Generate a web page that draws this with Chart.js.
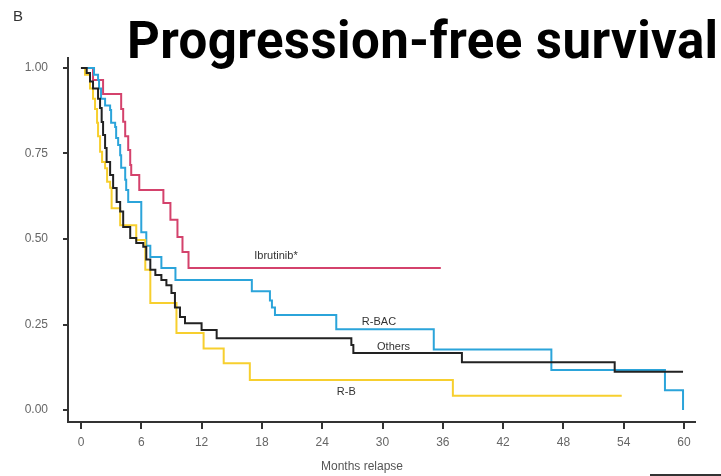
<!DOCTYPE html>
<html>
<head>
<meta charset="utf-8">
<script src="https://cdn.jsdelivr.net/npm/chart.js@4"></script>
<style>
  html, body { margin: 0; padding: 0; background: #fff; }
  #wrap { position: relative; width: 721px; height: 476px; }
</style>
</head>
<body>
<div id="wrap"><canvas id="pfs" width="721" height="476"></canvas></div>
<script>
// Kaplan-Meier steps: months and survival after each drop
const ibrutinibMonths = [0, 1.2, 2.2, 4.0, 4.2, 4.4, 4.7, 4.9, 5.0, 5.8, 8.2, 8.9, 9.6, 10.1, 10.7, 35.8];
const ibrutinibSurv   = [1.0, 0.965, 0.924, 0.88, 0.843, 0.80, 0.76, 0.716, 0.687, 0.643, 0.605, 0.556, 0.506, 0.462, 0.415, 0.415];

const rbacMonths = [0, 1.3, 1.7, 1.8, 2.0, 2.4, 2.9, 3.0, 3.4, 3.5, 3.7, 3.9, 4.0, 4.4, 4.5, 4.7, 6.0, 6.5, 6.9, 8.0, 9.4, 17.0, 18.8, 19.0, 19.3, 25.4, 35.1, 46.8, 58.1, 59.9];
const rbacSurv   = [1.0, 0.98, 0.965, 0.94, 0.91, 0.89, 0.877, 0.84, 0.827, 0.795, 0.775, 0.745, 0.708, 0.673, 0.643, 0.608, 0.52, 0.48, 0.447, 0.415, 0.38, 0.347, 0.32, 0.30, 0.278, 0.236, 0.177, 0.117, 0.058, 0.0];

const othersMonths = [0, 0.57, 0.9, 1.2, 1.7, 1.9, 2.06, 2.2, 2.4, 2.55, 2.9, 3.2, 3.55, 3.9, 4.2, 4.9, 5.5, 6.2, 6.5, 6.9, 7.4, 8.0, 8.5, 9.0, 9.35, 9.85, 10.35, 12.0, 13.5, 26.9, 27.1, 37.9, 53.1, 59.9];
const othersSurv   = [1.0, 0.985, 0.96, 0.94, 0.91, 0.883, 0.842, 0.804, 0.766, 0.725, 0.687, 0.649, 0.608, 0.58, 0.535, 0.503, 0.488, 0.477, 0.44, 0.41, 0.395, 0.38, 0.365, 0.342, 0.30, 0.272, 0.254, 0.234, 0.21, 0.19, 0.167, 0.14, 0.112, 0.112];

const rbMonths = [0, 0.4, 0.9, 1.2, 1.4, 1.6, 1.7, 1.9, 2.1, 2.4, 2.6, 2.9, 3.05, 3.9, 5.5, 6.4, 6.9, 9.5, 12.2, 14.2, 16.8, 37.0, 53.8];
const rbSurv   = [1.0, 0.98, 0.94, 0.91, 0.88, 0.84, 0.80, 0.755, 0.725, 0.707, 0.667, 0.65, 0.59, 0.54, 0.497, 0.41, 0.313, 0.225, 0.18, 0.137, 0.088, 0.042, 0.042];

const xTicks = [0, 6, 12, 18, 24, 30, 36, 42, 48, 54, 60];
const yTicks = [0, 0.25, 0.5, 0.75, 1.0];

const smallFont = '"Liberation Sans", Arial, sans-serif';

function toPoints(months, surv) {
    return months.map((m, i) => ({ x: m, y: surv[i] }));
}

const textPlugin = {
    id: 'pfsText',
    afterDraw(chart) {
        const ctx = chart.ctx;
        const xs = chart.scales.x, ys = chart.scales.y;
        ctx.save();
        // panel letter
        ctx.fillStyle = '#333';
        ctx.font = '15px ' + smallFont;
        ctx.textAlign = 'left';
        ctx.textBaseline = 'alphabetic';
        ctx.fillText('B', 13, 21);
        // title
        ctx.fillStyle = '#000';
        ctx.font = 'bold 51px Roboto, "Liberation Sans", sans-serif';
        ctx.letterSpacing = '0.4px';
        ctx.fillText('Progression-free survival', 127, 58);
        ctx.letterSpacing = '0px';
        // axis title
        ctx.fillStyle = '#555';
        ctx.font = '12px ' + smallFont;
        ctx.textAlign = 'center';
        ctx.textBaseline = 'middle';
        ctx.fillText('Months relapse', 362, 467);
        // curve labels
        ctx.fillStyle = '#333';
        ctx.font = '11px ' + smallFont;
        const labels = [
            ['Ibrutinib*', 19.4, 0.45],
            ['R-BAC', 29.65, 0.257],
            ['Others', 31.1, 0.184],
            ['R-B', 26.4, 0.053]
        ];
        labels.forEach(l => {
            ctx.fillText(l[0], xs.getPixelForValue(l[1]), ys.getPixelForValue(l[2]));
        });
        // bit of frame at the lower right edge
        ctx.strokeStyle = '#333';
        ctx.lineWidth = 2;
        ctx.beginPath();
        ctx.moveTo(650, 475);
        ctx.lineTo(721, 475);
        ctx.stroke();
        ctx.restore();
    }
};

const ctx = document.getElementById('pfs').getContext('2d');

const lineStyle = { pointRadius: 0, borderWidth: 2, stepped: true, fill: false, tension: 0 };

const myChart = new Chart(ctx, {
    type: 'line',
    data: {
        datasets: [
            Object.assign({ label: 'Others', data: toPoints(othersMonths, othersSurv), borderColor: '#222222' }, lineStyle),
            Object.assign({ label: 'R-B', data: toPoints(rbMonths, rbSurv), borderColor: '#f7cf2e' }, lineStyle),
            Object.assign({ label: 'R-BAC', data: toPoints(rbacMonths, rbacSurv), borderColor: '#2ba4da' }, lineStyle),
            Object.assign({ label: 'Ibrutinib*', data: toPoints(ibrutinibMonths, ibrutinibSurv), borderColor: '#d4426c' }, lineStyle)
        ]
    },
    options: {
        responsive: false,
        animation: false,
        layout: { padding: { left: 0, right: 26, top: 58, bottom: 0 } },
        plugins: {
            legend: { display: false },
            tooltip: { enabled: false }
        },
        scales: {
            x: {
                type: 'linear',
                min: -1.29,
                max: 61.09,
                afterBuildTicks: scale => { scale.ticks = xTicks.map(v => ({ value: v })); },
                afterFit: scale => { scale.height = 54; },
                border: { display: true, color: '#333', width: 2 },
                grid: { drawOnChartArea: false, drawTicks: true, tickLength: 7, color: '#333', lineWidth: 2 },
                ticks: {
                    padding: 6,
                    color: '#666',
                    font: { size: 12, family: smallFont },
                    callback: v => v
                }
            },
            y: {
                type: 'linear',
                min: -0.035,
                max: 1.029,
                afterBuildTicks: scale => { scale.ticks = yTicks.map(v => ({ value: v })); },
                afterFit: scale => { scale.width = 68; },
                border: { display: true, color: '#333', width: 2 },
                grid: { drawOnChartArea: false, drawTicks: true, tickLength: 5, color: '#333', lineWidth: 2 },
                ticks: {
                    padding: 15,
                    color: '#666',
                    font: { size: 12, family: smallFont },
                    callback: v => Number(v).toFixed(2)
                }
            }
        }
    },
    plugins: [textPlugin]
});
</script>
</body>
</html>
